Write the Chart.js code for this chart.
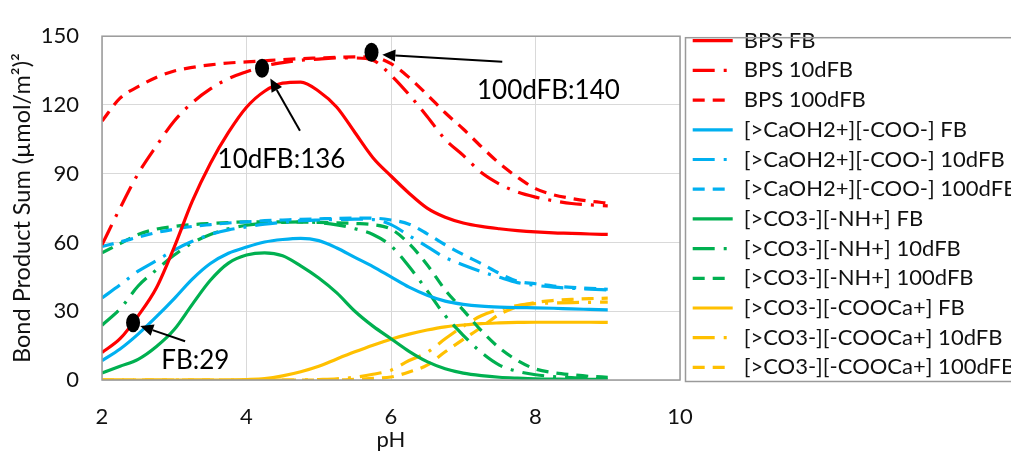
<!DOCTYPE html>
<html>
<head>
<meta charset="utf-8">
<script src="https://cdn.jsdelivr.net/npm/chart.js@4/dist/chart.umd.min.js"></script>
<style>
  html, body { margin: 0; padding: 0; background: #fff; }
  #wrap { width: 1011px; height: 451px; }
</style>
</head>
<body>
<div id="wrap"><canvas id="myChart" width="1011" height="451"></canvas></div>
<script>
// pH values
const phValues = [2, 2.25, 2.5, 2.75, 3, 3.25, 3.5, 3.75, 4, 4.25, 4.5, 4.75, 5, 5.25, 5.5, 5.75,
  6, 6.25, 6.5, 6.75, 7, 7.25, 7.5, 7.75, 8, 8.25, 8.5, 8.75, 9];

// BPS
const bpsFB = [12, 18, 28, 40, 58, 78, 94.5, 108, 119, 126, 129.5, 130, 126, 119, 108, 97,
  89, 81.5, 75, 71, 68.5, 67, 66, 65.2, 64.6, 64.2, 64, 63.7, 63.5];
const bps10dFB = [59, 75, 90, 102, 113, 121, 127, 131.5, 134.5, 137, 138.5, 139.5, 140, 140.5, 140.5, 139.5,
  133, 124.5, 115, 105, 98, 90.5, 85.5, 82, 79.8, 78.2, 77, 76.4, 76];
const bps100dFB = [113, 123, 128, 132, 134.8, 136.4, 137.5, 138.3, 138.8, 139.3, 139.8, 140.2, 140.5, 140.8, 141, 140.8,
  138, 132, 124.5, 116.6, 109.5, 101.8, 94.5, 88.5, 83.5, 80.8, 79.2, 78, 77.2];

// [>CaOH2+][-COO-]
const caFB = [8.4, 13.5, 20, 27.5, 35.5, 44, 50.8, 55.3, 58, 60.2, 61.3, 61.8, 60.8, 57.6, 53.5, 49.5,
  45, 40.5, 37, 34.4, 33, 32.2, 31.8, 31.6, 31.5, 31.3, 31, 30.8, 30.6];
const ca10dFB = [35.8, 41.5, 47.5, 52, 56.7, 60.5, 63.5, 65.5, 66.8, 68, 68.8, 69.5, 69.8, 70, 70.2, 70,
  67.8, 63, 58.2, 53.4, 50.2, 47.3, 44.8, 42.5, 41.3, 40.5, 40, 39.6, 39.3];
const ca100dFB = [58.3, 60.2, 62.3, 64.3, 65.8, 67, 67.8, 68.5, 69, 69.5, 69.8, 70.1, 70.3, 70.5, 70.6, 70.6,
  69.8, 68, 63.8, 59, 54.7, 50.8, 46.5, 43.1, 42, 41, 40.4, 40, 39.6];

// [>CO3-][-NH+]
const nhFB = [3.1, 6, 9, 14.5, 22, 33, 43.5, 51, 54.5, 55.5, 54.2, 49.8, 44.5, 38, 30, 23.5,
  18, 12.5, 8, 4.9, 3, 1.9, 1.2, 0.8, 0.5, 0.4, 0.3, 0.3, 0.3];
const nh10dFB = [23.9, 31, 41, 48, 54.5, 59.8, 63.5, 66, 67.5, 68.4, 68.8, 69, 68.7, 67.7, 66, 63.5,
  58.5, 49.5, 39, 28.1, 19.5, 12, 6.5, 3.8, 2.3, 1.5, 1, 0.7, 0.5];
const nh100dFB = [55.5, 59.5, 63.5, 65.8, 67, 67.8, 68.3, 68.7, 69, 69, 69, 68.9, 68.8, 68.6, 68.3, 67.8,
  65.8, 59.5, 50.3, 39.3, 30.5, 21.5, 14, 8.5, 4.8, 3.2, 2.3, 1.6, 1.2];

// [>CO3-][-COOCa+]
const cooFB = [0, 0, 0, 0, 0, 0, 0, 0, 0.2, 0.6, 1.8, 3.6, 6, 9.2, 12.3, 15.2,
  17.8, 20, 21.8, 23.2, 24, 24.6, 24.9, 25.1, 25.2, 25.2, 25.2, 25.2, 25.1];
const coo10dFB = [0, 0, 0, 0, 0, 0, 0, 0, 0, 0, 0, 0, 0.2, 0.5, 1.2, 2.5,
  4.3, 8.5, 12, 18, 23.5, 28, 30.8, 32.5, 33.3, 33.6, 33.8, 33.9, 34];
const coo100dFB = [0, 0, 0, 0, 0, 0, 0, 0, 0, 0, 0, 0, 0, 0, 0.3, 0.7,
  1.3, 3.5, 6.5, 12.3, 17.7, 23, 28.6, 32, 33.8, 34.7, 35.2, 35.5, 35.7];

// y ticks
const yTicks = [0, 30, 60, 90, 120, 150];

// annotations (pH, value)
const noteLabels = ['FB:29', '10dFB:136', '100dFB:140'];
const dotPH = [2.43, 4.215, 5.73];
const dotVal = [25, 136, 143];
const arrowTailPH = [3.15, 4.74, 7.54];
const arrowTailVal = [16.9, 108.8, 138.8];
const arrowHeadPH = [2.53, 4.33, 5.88];
const arrowHeadVal = [23.6, 131.5, 141.9];
const notePH = [2.82, 3.6, 7.19];
const noteVal = [8.4, 96.2, 126.4];

const RED = '#FF0000', BLUE = '#00B0F0', GREEN = '#00B050', GOLD = '#FFC000';
const DASHDOT = [22, 9, 3, 9];
const DASHED = [12, 8];
const LINE_W = 3.2;

function series(label, values, color, dash) {
  return {
    label: label,
    data: phValues.map((x, i) => ({x: x, y: values[i]})),
    borderColor: color,
    backgroundColor: color,
    borderWidth: LINE_W,
    borderDash: dash,
    pointRadius: 0,
    fill: false,
    cubicInterpolationMode: 'monotone'
  };
}

const datasets = [
  series('BPS FB', bpsFB, RED, []),
  series('BPS 10dFB', bps10dFB, RED, DASHDOT),
  series('BPS 100dFB', bps100dFB, RED, DASHED),
  series('[>CaOH2+][-COO-] FB', caFB, BLUE, []),
  series('[>CaOH2+][-COO-] 10dFB', ca10dFB, BLUE, DASHDOT),
  series('[>CaOH2+][-COO-] 100dFB', ca100dFB, BLUE, DASHED),
  series('[>CO3-][-NH+] FB', nhFB, GREEN, []),
  series('[>CO3-][-NH+] 10dFB', nh10dFB, GREEN, DASHDOT),
  series('[>CO3-][-NH+] 100dFB', nh100dFB, GREEN, DASHED),
  series('[>CO3-][-COOCa+] FB', cooFB, GOLD, []),
  series('[>CO3-][-COOCa+] 10dFB', coo10dFB, GOLD, DASHDOT),
  series('[>CO3-][-COOCa+] 100dFB', coo100dFB, GOLD, DASHED)
];

const FONT = 'Lato, "Open Sans", sans-serif';
const TEXT = '#111';

// frame around plot area and legend, plus shift the legend a bit inward
const framePlugin = {
  id: 'frames',
  afterLayout(chart) {
    chart.legend.left += 5;
    chart.legend.top -= 2;
  },
  afterDatasetsDraw(chart) {
    const {ctx, chartArea: a} = chart;
    ctx.save();
    ctx.strokeStyle = '#9a9a9a';
    ctx.lineWidth = 1.5;
    ctx.strokeRect(a.left, a.top, a.right - a.left, a.bottom - a.top);
    ctx.strokeRect(a.right + 5.5, a.top + 1.5, 400, a.bottom - a.top);
    ctx.restore();
  }
};

// dots, arrows and labels
const notePlugin = {
  id: 'notes',
  afterDatasetsDraw(chart) {
    const {ctx} = chart;
    const xs = chart.scales.x, ys = chart.scales.y;
    ctx.save();
    noteLabels.forEach((txt, i) => {
      // dot
      ctx.fillStyle = '#000';
      ctx.beginPath();
      ctx.ellipse(xs.getPixelForValue(dotPH[i]), ys.getPixelForValue(dotVal[i]), 7, 9.5, 0, 0, Math.PI * 2);
      ctx.fill();
      // arrow
      const x1 = xs.getPixelForValue(arrowTailPH[i]), y1 = ys.getPixelForValue(arrowTailVal[i]);
      const x2 = xs.getPixelForValue(arrowHeadPH[i]), y2 = ys.getPixelForValue(arrowHeadVal[i]);
      const ang = Math.atan2(y2 - y1, x2 - x1);
      const headLen = 13, headW = 6;
      const bx = x2 - Math.cos(ang) * headLen, by = y2 - Math.sin(ang) * headLen;
      ctx.strokeStyle = '#000';
      ctx.lineWidth = 2;
      ctx.beginPath();
      ctx.moveTo(x1, y1);
      ctx.lineTo(bx, by);
      ctx.stroke();
      ctx.beginPath();
      ctx.moveTo(x2, y2);
      ctx.lineTo(bx + Math.sin(ang) * headW, by - Math.cos(ang) * headW);
      ctx.lineTo(bx - Math.sin(ang) * headW, by + Math.cos(ang) * headW);
      ctx.closePath();
      ctx.fill();
      // label
      ctx.font = '26px ' + FONT;
      ctx.textAlign = 'left';
      ctx.textBaseline = 'middle';
      ctx.fillText(txt, xs.getPixelForValue(notePH[i]), ys.getPixelForValue(noteVal[i]));
    });
    ctx.restore();
  }
};

const ctx = document.getElementById('myChart');

new Chart(ctx, {
  type: 'line',
  data: { datasets: datasets },
  options: {
    responsive: false,
    animation: false,
    layout: { padding: { top: 24, left: 0, right: 0, bottom: 0 } },
    plugins: {
      tooltip: { enabled: false },
      legend: {
        position: 'right',
        align: 'start',
        maxWidth: 331,
        labels: {
          usePointStyle: true,
          pointStyle: 'line',
          pointStyleWidth: 40,
          padding: 7.7,
          color: TEXT,
          font: { family: FONT, size: 22 },
          generateLabels(chart) {
            const items = Chart.defaults.plugins.legend.labels.generateLabels(chart);
            items.forEach(item => {
              const ds = chart.data.datasets[item.datasetIndex];
              item.lineDash = ds.borderDash;
              item.strokeStyle = ds.borderColor;
              item.lineWidth = LINE_W;
              item.lineCap = 'butt';
            });
            return items;
          }
        }
      }
    },
    scales: {
      x: {
        type: 'linear',
        min: 2,
        max: 10,
        afterFit(scale) { scale.height = 71; },
        ticks: { stepSize: 2, padding: 24, color: TEXT, font: { family: FONT, size: 22 } },
        grid: { color: '#D9D9D9', drawTicks: false },
        border: { display: false },
        title: { display: true, text: 'pH', color: TEXT, font: { family: FONT, size: 22, lineHeight: 1 }, padding: { top: 0, bottom: 0 } }
      },
      y: {
        min: 0,
        max: 150,
        afterFit(scale) { scale.width = 102; },
        afterBuildTicks(scale) { scale.ticks = yTicks.map(v => ({value: v})); },
        ticks: { padding: 23, color: TEXT, font: { family: FONT, size: 22 } },
        grid: { color: '#D9D9D9', drawTicks: false },
        border: { display: false },
        title: { display: true, text: 'Bond Product Sum (µmol/m²)²', color: TEXT, font: { family: FONT, size: 23.5 }, padding: { top: 8, bottom: 0 } }
      }
    }
  },
  plugins: [framePlugin, notePlugin]
});
</script>
</body>
</html>
